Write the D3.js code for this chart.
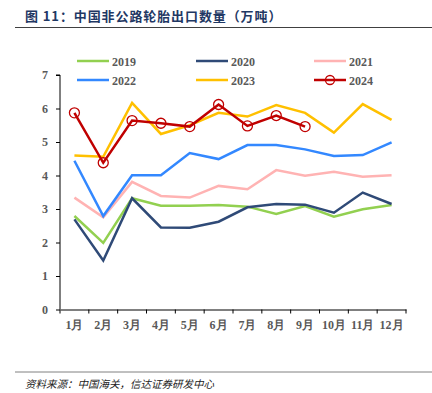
<!DOCTYPE html>
<html><head><meta charset="utf-8">
<script src="https://cdn.jsdelivr.net/npm/d3@7"></script>
<style>body{margin:0;background:#fff;}svg{display:block;}</style>
</head><body>
<svg id="c" width="432" height="393"></svg>
<script>
const months = ["1月","2月","3月","4月","5月","6月","7月","8月","9月","10月","11月","12月"];
const yTicks = [0,1,2,3,4,5,6,7];
const s2019 = [2.79,1.99,3.32,3.10,3.10,3.12,3.07,2.85,3.09,2.77,2.99,3.12];
const s2020 = [2.69,1.46,3.32,2.45,2.44,2.62,3.05,3.15,3.13,2.89,3.49,3.15];
const s2021 = [3.34,2.75,3.81,3.39,3.34,3.69,3.59,4.16,3.99,4.11,3.96,4.01];
const s2022 = [4.44,2.79,4.01,4.01,4.67,4.49,4.91,4.91,4.78,4.58,4.61,4.99];
const s2023 = [4.60,4.56,6.17,5.24,5.50,5.87,5.76,6.10,5.87,5.28,6.13,5.66];
const s2024 = [5.87,4.38,5.64,5.56,5.46,6.12,5.48,5.79,5.46];
const seriesNames = ["2019","2020","2021","2022","2023","2024"];
const seriesColors = ["#92D050","#2F4A77","#FFB3B3","#3388FF","#FFC000","#C00000"];
const seriesData = [s2019,s2020,s2021,s2022,s2023,s2024];

const svg = d3.select("#c");
const ml = 60, mr = 406, mt = 75, mb = 309.5;
const x = d3.scaleBand().domain(months).range([ml, mr]);
const y = d3.scaleLinear().domain([0,7]).range([mb, mt]);

// title
svg.append("text").attr("x",25).attr("y",21)
  .attr("font-family","'Noto Sans CJK SC', sans-serif").attr("font-weight","bold")
  .attr("font-size",13).attr("fill","#1F3864").attr("letter-spacing",0.9)
  .text("图 11：中国非公路轮胎出口数量（万吨）");
svg.append("line").attr("x1",15).attr("x2",432).attr("y1",27.5).attr("y2",27.5)
  .attr("stroke","#404040").attr("stroke-width",1);

// axes
const serif = "'Liberation Serif','Times New Roman',serif";
const yAxis = svg.append("g").attr("transform",`translate(${ml},0)`)
  .call(d3.axisLeft(y).tickValues(yTicks).tickSize(4).tickFormat(d3.format("d")));
yAxis.select(".domain").attr("stroke","#000").attr("stroke-width",1).attr("d",`M-4,${mt}H0V${mb}`);
yAxis.selectAll(".tick line").attr("stroke","#000");
yAxis.selectAll(".tick text").attr("font-family",serif).attr("font-weight","bold")
  .attr("font-size",12).attr("fill","#595959").attr("x",-12);

const xAxis = svg.append("g").attr("transform",`translate(0,${mb})`)
  .call(d3.axisBottom(x).tickSize(0).tickPadding(11));
xAxis.select(".domain").attr("stroke","#000").attr("stroke-width",1);
xAxis.selectAll(".tick text").attr("font-family",serif).attr("font-weight","bold")
  .attr("font-size",12).attr("fill","#595959");
// boundary ticks
svg.append("g").selectAll("line").data(d3.range(months.length+1)).join("line")
  .attr("x1",i=>ml+i*x.step()).attr("x2",i=>ml+i*x.step())
  .attr("y1",mb).attr("y2",mb+4).attr("stroke","#000");

// lines
const line = d3.line().x((d,i)=>x(months[i])+x.bandwidth()/2).y(d=>y(d));
seriesData.forEach((data,k)=>{
  svg.append("path").datum(data).attr("d",line).attr("fill","none")
    .attr("stroke",seriesColors[k]).attr("stroke-width",2.5).attr("stroke-linejoin","miter");
});
svg.append("g").selectAll("circle").data(s2024).join("circle")
  .attr("cx",(d,i)=>x(months[i])+x.bandwidth()/2).attr("cy",d=>y(d)).attr("r",5)
  .attr("fill","none").attr("stroke","#C00000").attr("stroke-width",1.3);

// legend
const legX = [77,196,314], legY = [61,80];
seriesNames.forEach((n,k)=>{
  const lx = legX[k%3], ly = legY[Math.floor(k/3)];
  const g = svg.append("g");
  g.append("line").attr("x1",lx).attr("x2",lx+32).attr("y1",ly).attr("y2",ly)
    .attr("stroke",seriesColors[k]).attr("stroke-width",2.5);
  if(k===5) g.append("circle").attr("cx",lx+16).attr("cy",ly).attr("r",4.5)
    .attr("fill","none").attr("stroke",seriesColors[k]).attr("stroke-width",1.3);
  g.append("text").attr("x",lx+35).attr("y",ly+4.5).attr("font-family",serif)
    .attr("font-weight","bold").attr("font-size",12).attr("fill","#595959").text(n);
});

// footer
svg.append("line").attr("x1",15).attr("x2",432).attr("y1",372).attr("y2",372)
  .attr("stroke","#808080").attr("stroke-width",1);
svg.append("text").attr("x",25).attr("y",388)
  .attr("font-family","'Noto Sans CJK SC', sans-serif").attr("font-style","italic")
  .attr("font-size",10.5).attr("fill","#222")
  .text("资料来源：中国海关，信达证券研发中心");
</script>
</body></html>
